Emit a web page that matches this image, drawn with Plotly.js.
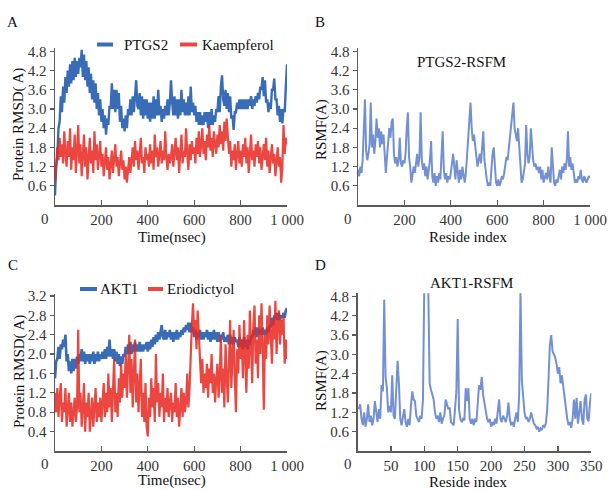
<!DOCTYPE html>
<html><head><meta charset="utf-8">
<script src="https://cdn.plot.ly/plotly-3.0.1.min.js"></script>
<style>html,body{margin:0;padding:0;background:#fff}#chart{width:608px;height:490px}</style>
</head><body><div id="chart"></div>
<script>
// ---- Panel A: RMSD (nsec, step 5) ----
const ptgs2Rmsd = [
0.3,1.2,1.5,2.4,2.6,3.4,2.9,3.7,3.2,4.0,3.5,4.2,3.7,4.4,3.8,4.5,3.9,4.6,4.0,4.5,
4.1,4.6,4.3,4.85,4.0,4.7,3.9,4.5,3.7,4.3,3.5,4.1,3.3,3.9,3.2,3.8,3.0,3.5,2.8,3.3,
2.6,3.0,2.4,2.8,2.2,2.7,2.5,3.1,3.0,3.8,3.0,3.6,2.9,3.6,3.0,3.5,2.6,3.1,2.4,2.7,
2.3,2.8,2.4,3.0,2.8,3.3,2.8,3.4,2.9,3.5,3.9,3.1,3.0,3.5,2.8,3.4,2.7,3.3,2.8,3.3,
2.7,3.2,2.6,3.2,2.7,3.4,2.7,3.3,2.8,3.6,2.8,3.1,2.6,3.0,2.7,3.1,2.8,3.3,2.8,3.2,
3.9,3.2,2.8,3.4,2.8,3.3,2.7,3.3,2.8,3.6,2.9,3.3,2.8,3.2,2.8,3.4,2.8,3.7,2.9,3.2,
2.8,3.1,2.6,2.9,2.5,2.9,2.5,2.8,2.5,2.9,2.6,2.9,2.4,2.9,2.5,3.0,2.5,2.8,2.6,3.0,
2.9,3.4,2.9,3.7,4.05,3.3,3.1,3.6,3.0,3.5,2.9,3.4,2.7,2.8,2.35,2.9,2.9,3.2,3.0,3.3,
3.0,3.3,3.0,3.3,3.0,3.3,3.0,3.3,3.1,3.4,3.0,3.3,3.1,3.4,3.2,3.5,3.3,3.7,3.6,4.0,
3.4,3.9,3.2,3.3,2.9,3.2,3.0,3.6,3.6,3.95,3.3,3.3,2.8,3.1,2.6,3.0,2.55,3.0,2.9,3.7,4.4];
const kaempferolRmsd = [
0.7,1.2,1.8,1.4,2.1,1.5,1.9,1.3,2.3,1.6,1.2,2.0,1.5,2.4,1.1,1.8,1.4,2.2,1.0,1.7,
2.5,1.3,1.9,0.9,1.6,2.2,1.2,1.8,0.8,1.5,2.1,1.3,1.7,1.0,2.3,1.4,1.9,1.1,1.6,2.0,
1.2,1.6,0.9,1.4,1.8,1.1,1.5,0.8,1.3,1.7,1.0,1.4,1.9,1.2,1.5,0.9,1.3,1.7,1.1,1.4,
0.8,1.2,0.7,1.1,1.5,1.0,1.4,1.8,1.2,2.0,1.4,1.7,1.1,1.6,2.1,1.3,1.5,1.0,1.8,1.4,
1.6,1.2,1.9,1.3,1.7,1.1,2.2,1.5,1.8,1.2,1.6,2.0,1.3,1.7,1.4,2.3,1.5,1.1,1.6,1.3,
1.5,1.9,1.2,1.7,2.1,1.4,1.8,1.0,1.6,2.2,1.3,1.7,1.5,2.4,1.6,1.1,1.9,1.4,2.0,1.6,
1.8,1.3,2.1,1.6,2.3,1.5,1.9,2.4,1.6,2.0,1.4,2.2,1.8,2.5,1.7,2.1,1.5,2.3,1.9,1.6,
2.2,1.8,2.5,1.9,2.3,1.7,2.6,2.0,2.7,1.9,1.6,2.0,1.2,1.7,1.4,1.9,1.1,1.6,2.0,1.3,
1.7,1.2,1.9,1.5,2.1,1.3,1.8,1.0,1.6,2.2,1.4,1.7,1.2,1.9,1.5,2.0,1.3,1.8,1.1,1.6,
1.9,1.4,2.1,1.2,1.7,1.0,1.5,1.9,1.3,1.6,0.9,1.4,1.8,1.2,1.5,0.7,1.2,2.5,1.6,2.1,1.9];
// ---- Panel B: RSMF (residue, step 5) ----
const ptgs2Rsmf = [
1.1,0.9,1.2,1.0,1.4,2.2,3.3,1.7,1.4,1.6,1.9,3.2,1.8,2.2,1.6,2.0,2.7,2.1,2.4,1.8,
2.3,1.9,2.2,1.6,1.0,1.5,2.0,2.4,2.1,2.6,2.7,1.6,1.3,1.5,1.2,1.4,2.1,1.3,1.2,1.4,
1.3,1.6,2.4,2.9,1.5,1.2,0.7,0.9,1.2,1.0,1.3,1.6,1.2,1.5,2.9,1.4,1.1,1.3,0.9,1.2,
0.8,1.1,1.4,2.0,0.9,0.7,1.0,0.6,0.9,0.7,1.0,0.8,1.6,2.3,1.1,0.8,1.0,0.7,0.9,0.8,
1.0,1.3,1.6,1.2,0.8,1.4,1.0,0.7,1.1,0.8,1.2,0.9,0.7,1.0,1.5,2.1,2.7,3.2,2.4,2.0,
2.2,1.8,1.5,1.2,1.4,1.6,1.3,1.9,2.3,1.4,1.0,0.8,0.6,0.7,0.6,1.2,1.6,1.8,1.1,0.7,
0.6,0.8,0.6,0.7,0.9,0.8,1.0,1.2,1.5,1.4,1.8,2.2,2.6,2.9,3.2,2.4,2.2,2.0,2.4,1.8,
1.2,0.7,0.8,1.0,1.3,2.5,1.6,1.3,1.5,2.4,1.7,1.4,1.2,1.3,1.1,1.2,1.0,1.2,0.8,1.1,
0.7,0.9,1.0,0.8,1.2,0.9,0.7,1.8,1.0,0.7,0.6,0.8,0.7,0.9,1.1,0.8,1.2,1.0,1.3,1.1,
1.4,2.3,1.2,1.5,1.1,1.3,0.9,0.7,0.8,0.7,0.9,0.8,1.1,0.8,0.7,0.9,0.8,0.7,0.8,0.9,0.85];
// ---- Panel C: RMSD (nsec, step 5) ----
const akt1Rmsd = [
1.5,1.85,1.9,2.15,1.9,2.2,2.1,2.3,2.15,2.4,1.85,2.0,1.65,1.85,1.6,1.9,1.65,1.9,1.7,1.95,
1.8,2.0,1.85,2.1,1.85,2.05,1.8,2.0,1.85,2.0,1.8,2.0,1.85,2.05,1.8,2.0,1.85,2.05,1.85,2.0,
1.9,2.05,1.9,2.1,1.9,2.15,1.95,2.3,1.95,2.1,1.9,2.1,1.85,2.05,1.8,2.0,1.75,1.95,1.8,2.0,
1.95,2.15,2.0,2.2,2.0,2.25,2.0,2.2,2.05,2.25,2.05,2.2,2.05,2.25,2.05,2.2,2.05,2.2,2.1,2.25,
2.05,2.25,2.1,2.3,2.15,2.35,2.2,2.4,2.25,2.45,2.3,2.5,2.6,2.35,2.3,2.5,2.3,2.45,2.35,2.5,
2.3,2.45,2.25,2.45,2.3,2.5,2.3,2.45,2.35,2.5,2.4,2.55,2.45,2.6,2.5,2.65,2.45,2.65,2.45,2.55,
2.35,2.5,2.3,2.45,2.35,2.5,2.3,2.45,2.3,2.45,2.35,2.5,2.3,2.45,2.25,2.45,2.3,2.5,2.3,2.45,
2.25,2.45,2.25,2.4,2.3,2.45,2.25,2.35,2.25,2.4,2.2,2.4,2.2,2.35,2.2,2.35,2.25,2.3,2.15,2.35,
2.15,2.3,2.1,2.35,2.15,2.3,2.1,2.3,2.2,2.35,2.35,2.5,2.4,2.55,2.35,2.55,2.4,2.5,2.4,2.55,
2.4,2.5,2.4,2.55,2.45,2.6,2.55,2.75,2.6,2.8,2.7,2.85,2.7,2.85,2.7,2.8,2.75,2.85,2.75,2.9,2.95];
const eriodictyolRmsd = [
1.2,0.8,1.3,0.7,1.1,1.4,0.6,1.0,0.8,1.3,0.5,0.9,1.2,0.6,1.0,0.5,0.8,1.1,0.6,0.9,
2.5,0.8,1.2,0.5,0.9,1.4,0.4,1.0,0.7,1.2,0.4,0.8,1.1,0.5,0.9,1.3,0.6,1.0,0.7,1.1,
0.6,1.0,1.4,0.7,1.2,0.8,1.6,0.9,1.3,0.6,1.1,1.9,0.8,1.2,0.7,1.5,1.0,1.8,1.1,1.6,
1.3,2.0,1.1,1.7,2.4,1.2,1.9,0.9,1.5,2.3,1.0,1.6,0.8,1.3,1.9,0.7,1.2,0.6,1.4,0.5,
0.3,1.1,0.7,1.5,0.9,1.3,0.6,2.0,1.0,1.4,0.7,1.2,0.9,1.6,0.6,1.1,0.8,1.3,0.7,1.0,
1.2,0.6,1.0,0.8,1.4,0.7,1.1,0.5,0.9,1.3,0.7,1.2,0.8,1.0,1.6,0.9,1.3,2.2,2.6,3.05,
2.4,2.7,2.1,2.9,2.3,1.8,1.4,1.9,1.2,1.6,1.3,1.8,1.1,1.7,1.4,2.0,1.2,1.6,1.0,1.5,
1.8,1.1,1.5,2.4,1.2,1.7,0.9,2.2,1.4,1.0,1.8,2.7,1.3,1.9,2.5,1.5,0.8,2.1,1.6,2.6,
1.9,2.3,1.5,2.7,2.0,1.2,2.4,1.7,2.9,2.1,1.4,2.6,3.0,1.8,2.3,1.5,2.8,2.0,3.05,2.2,
0.85,2.4,1.9,2.8,2.2,3.0,2.5,1.8,2.7,2.3,3.1,2.0,2.6,2.9,2.2,2.7,2.4,2.8,1.8,2.3,1.9];
// ---- Panel D: RSMF (residue 2..350, step 2) ----
const akt1Rsmf = [
1.3,1.45,1.0,0.8,1.2,0.75,1.0,1.45,0.9,1.1,
0.8,1.0,1.55,1.1,0.9,1.3,1.0,2.05,1.85,4.7,
2.3,1.95,1.2,1.4,1.2,2.35,1.1,1.0,1.95,2.8,
2.1,1.0,0.8,1.0,1.3,0.9,0.75,1.0,0.8,1.4,
1.85,1.6,1.55,1.1,1.0,0.9,1.1,1.0,1.6,5.2,
5.4,5.4,5.0,2.1,1.9,1.7,1.6,1.2,1.0,1.1,
0.9,1.2,0.85,1.0,1.1,1.6,1.45,1.3,1.35,0.9,
0.85,0.8,1.3,1.85,4.1,1.3,1.0,0.9,1.0,0.95,
1.95,1.55,1.95,1.0,0.85,1.0,0.8,1.0,0.9,1.6,
2.05,1.9,2.3,1.75,1.5,1.2,1.0,0.9,1.0,0.75,
0.9,0.8,1.0,0.85,1.2,1.6,1.0,0.9,1.1,1.0,
0.9,1.1,1.5,1.0,0.8,0.9,0.75,1.0,1.2,0.9,
1.75,4.95,2.2,1.7,1.2,1.0,1.05,0.9,1.0,1.2,
1.0,0.85,0.8,0.7,0.75,0.6,0.7,0.65,0.8,0.75,
0.85,1.3,2.25,3.3,3.6,3.1,3.0,2.9,2.7,2.4,
2.6,2.1,2.35,2.0,1.75,1.2,1.0,0.8,0.9,0.72,
1.0,1.6,1.0,1.65,0.85,1.2,1.55,1.0,0.82,1.6,
1.75,1.0,0.92,1.5,1.8];

// tick definitions
const timeTicks = [0,200,400,600,800,1000];
const timeTickText = ['','200','400','600','800','1 000'];
const resTicksD = [0,50,100,150,200,250,300,350];
const resTickTextD = ['','50','100','150','200','250','300','350'];
const yTicks48 = [0.6,1.2,1.8,2.4,3.0,3.6,4.2,4.8];
const yTicks32 = [0.4,0.8,1.2,1.6,2.0,2.4,2.8,3.2];

const timeStep = 5, resStepB = 5, resStepD = 2, resStartD = 2;
const tA = ptgs2Rmsd.map((_, i) => i * timeStep);
const rB = ptgs2Rsmf.map((_, i) => i * resStepB);
const tC = akt1Rmsd.map((_, i) => i * timeStep);
const rD = akt1Rsmf.map((_, i) => resStartD + i * resStepD);

const W = 608, H = 490;
const X = p => p / W, Y = p => 1 - p / H;
const FONT = 'Liberation Serif, Times New Roman, serif';
const BLUE = 'rgba(30,88,172,0.88)';
const RED = 'rgba(232,38,30,0.85)';
const LBLUE = 'rgba(48,92,188,0.68)';
const AX = '#5a5a5a';

const traces = [
  {x: tA, y: ptgs2Rmsd, xaxis: 'x', yaxis: 'y', mode: 'lines', line: {color: BLUE, width: 2.4}, hoverinfo: 'skip'},
  {x: tA, y: kaempferolRmsd, xaxis: 'x', yaxis: 'y', mode: 'lines', line: {color: RED, width: 2.2}, hoverinfo: 'skip'},
  {x: rB, y: ptgs2Rsmf, xaxis: 'x2', yaxis: 'y2', mode: 'lines', line: {color: LBLUE, width: 2}, hoverinfo: 'skip'},
  {x: tC, y: akt1Rmsd, xaxis: 'x3', yaxis: 'y3', mode: 'lines', line: {color: BLUE, width: 2.6}, hoverinfo: 'skip'},
  {x: tC, y: eriodictyolRmsd, xaxis: 'x3', yaxis: 'y3', mode: 'lines', line: {color: RED, width: 2.2}, hoverinfo: 'skip'},
  {x: rD, y: akt1Rsmf, xaxis: 'x4', yaxis: 'y4', mode: 'lines', line: {color: LBLUE, width: 2}, hoverinfo: 'skip'}
];

const tickFont = {family: FONT, size: 15, color: '#333'};
function xAx(d0, d1, range, vals, text, anchor) {
  return {domain: [X(d0), X(d1)], range: range, anchor: anchor, showline: true, linecolor: AX, linewidth: 1.5,
    ticks: 'inside', ticklen: 5, tickwidth: 1.2, tickcolor: AX, tickvals: vals, ticktext: text,
    showgrid: false, zeroline: false, tickfont: tickFont, fixedrange: true};
}
function yAx(bot, top, range, vals, anchor) {
  return {domain: [Y(bot), Y(top)], range: range, anchor: anchor, showline: true, linecolor: AX, linewidth: 1.5,
    ticks: 'outside', ticklen: 4, tickwidth: 1.2, tickcolor: AX, tickvals: vals, ticktext: vals.map(v => v.toFixed(1)),
    showgrid: false, zeroline: false, tickfont: tickFont, fixedrange: true};
}

function ann(text, px, py, extra) {
  return Object.assign({text: text, x: X(px), y: Y(py), xref: 'paper', yref: 'paper', showarrow: false,
    xanchor: 'center', yanchor: 'middle', font: {family: FONT, size: 15, color: '#111'}}, extra || {});
}
const leftAnn = (t, px, py) => ann(t, px, py, {xanchor: 'left'});

const annotations = [
  ann('A', 12.5, 22), ann('B', 320, 22), ann('C', 12.5, 265), ann('D', 320, 265),
  ann('0', 45, 219, {font: tickFont}), ann('0', 348, 219, {font: tickFont}),
  ann('0', 45, 464, {font: tickFont}), ann('0', 348, 464, {font: tickFont}),
  ann('Time(nsec)', 172, 237), ann('Reside index', 468, 237),
  ann('Time(nsec)', 172, 480), ann('Reside index', 468, 482),
  ann('Protein RMSD( A)', 19, 125, {textangle: -90}), ann('RSMF(A)', 321, 130, {textangle: -90}),
  ann('Protein RMSD( A)', 19, 372, {textangle: -90}), ann('RSMF(A)', 321, 381, {textangle: -90}),
  ann('PTGS2-RSFM', 461, 62), ann('AKT1-RSFM', 471, 283),
  leftAnn('PTGS2', 122, 45), leftAnn('Kaempferol', 200, 45),
  leftAnn('AKT1', 98, 289), leftAnn('Eriodictyol', 165, 289)
];
const legLine = (x0, x1, py, color) => ({type: 'line', xref: 'paper', yref: 'paper', x0: X(x0), x1: X(x1), y0: Y(py), y1: Y(py), line: {color: color, width: 4}});
const shapes = [
  legLine(97, 113, 44.5, BLUE), legLine(180, 197, 44.5, RED),
  legLine(80, 97, 289, BLUE), legLine(148, 163, 289, RED)
];

const layout = {
  width: W, height: H, margin: {l: 0, r: 0, t: 0, b: 0}, paper_bgcolor: '#fff', plot_bgcolor: '#fff',
  showlegend: false, font: {family: FONT, size: 15, color: '#111'},
  xaxis: xAx(55, 287, [0, 1000], timeTicks, timeTickText, 'y'),
  yaxis: yAx(205, 48.2, [0, 4.9], yTicks48, 'x'),
  xaxis2: xAx(358, 590, [0, 1000], timeTicks, timeTickText, 'y2'),
  yaxis2: yAx(205, 48.2, [0, 4.9], yTicks48, 'x2'),
  xaxis3: xAx(55, 287, [0, 1000], timeTicks, timeTickText, 'y3'),
  yaxis3: yAx(451, 293.5, [0, 3.25], yTicks32, 'x3'),
  xaxis4: xAx(357.5, 591.3, [0, 350], resTicksD, resTickTextD, 'y4'),
  yaxis4: yAx(451, 293.2, [0, 4.9], yTicks48, 'x4'),
  annotations: annotations, shapes: shapes
};
Plotly.newPlot('chart', traces, layout, {displayModeBar: false, staticPlot: true});
</script></body></html>
